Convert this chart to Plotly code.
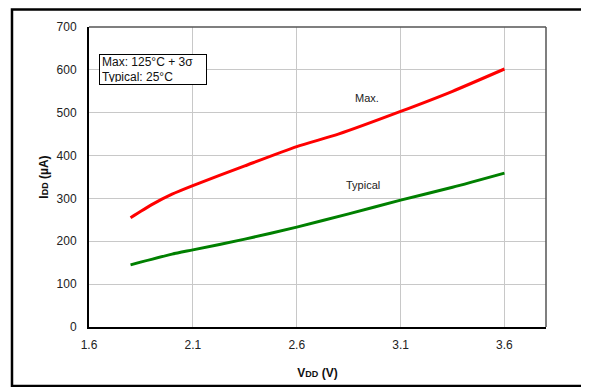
import plotly.graph_objects as go

# supply voltage (V) and supply current (uA)
vdd_max = [1.8, 1.9, 2.0, 2.1, 2.35, 2.6, 2.8, 3.1, 3.35, 3.6]
idd_max = [255, 285, 310, 330, 376, 421, 450, 503, 550, 602]
vdd_typ = [1.8, 2.0, 2.1, 2.35, 2.6, 2.85, 3.1, 3.35, 3.6]
idd_typ = [145, 170, 180, 205, 233, 264, 296, 326, 359]

x_ticks = [1.6, 2.1, 2.6, 3.1, 3.6]

FONT = 'Arial, Liberation Sans, sans-serif'

fig = go.Figure()
fig.add_trace(go.Scatter(x=vdd_max, y=idd_max, mode='lines', name='Max.',
                         line=dict(color='#ff0000', width=3, shape='spline', smoothing=0.6)))
fig.add_trace(go.Scatter(x=vdd_typ, y=idd_typ, mode='lines', name='Typical',
                         line=dict(color='#008000', width=3, shape='spline', smoothing=0.6)))

tick_font = dict(family=FONT, size=12, color='#222')

fig.update_xaxes(range=[1.6, 3.8], tickvals=x_ticks, ticktext=[f'{v:.1f}' for v in x_ticks],
                 showgrid=True, gridcolor='#c8c8c8', gridwidth=1, zeroline=False,
                 showline=True, linecolor='black', linewidth=2, ticks='', tickfont=tick_font,
                 ticklabelstandoff=6,
                 title=dict(text='<b>V<span style="font-size:9px">DD</span> (V)</b>',
                            font=dict(family=FONT, size=12, color='#111'), standoff=17))
fig.update_yaxes(range=[0, 700], dtick=100, showgrid=True, gridcolor='#c8c8c8', gridwidth=1,
                 zeroline=False, showline=True, linecolor='black', linewidth=2, ticks='',
                 tickfont=tick_font, ticklabelstandoff=8,
                 title=dict(text='<b>I<span style="font-size:9px">DD</span> (µA)</b>',
                            font=dict(family=FONT, size=12, color='#111'), standoff=5))

# top / right frame of the plot area and outer border
fig.add_shape(type='line', xref='paper', yref='paper', x0=0, x1=1, y0=1, y1=1,
              line=dict(color='#555', width=1.5))
fig.add_shape(type='line', xref='paper', yref='paper', x0=1, x1=1, y0=0, y1=1,
              line=dict(color='#555', width=1.5))
fig.add_shape(type='rect', xref='paper', yref='paper', x0=-0.1685, x1=1.0875, y0=-0.1967, y1=1.058,
              line=dict(color='black', width=2.5))

fig.add_annotation(x=2.94, y=534, text='Max.', showarrow=False,
                   font=dict(family=FONT, size=11, color='#222'))
fig.add_annotation(x=2.92, y=331, text='Typical', showarrow=False,
                   font=dict(family=FONT, size=11, color='#222'))
fig.add_annotation(xref='paper', yref='paper', x=0.022, y=0.91, xanchor='left', yanchor='top',
                   text='Max: 125°C + 3σ<br>Typical: 25°C', showarrow=False, align='left',
                   width=102, height=25, valign='middle',
                   bordercolor='black', borderwidth=1, borderpad=2, bgcolor='white',
                   font=dict(family=FONT, size=12, color='#111'))

fig.update_layout(width=589, height=387, margin=dict(l=81, r=51, t=19, b=68),
                  paper_bgcolor='white', plot_bgcolor='white', showlegend=False)

fig.write_html("out.html")
